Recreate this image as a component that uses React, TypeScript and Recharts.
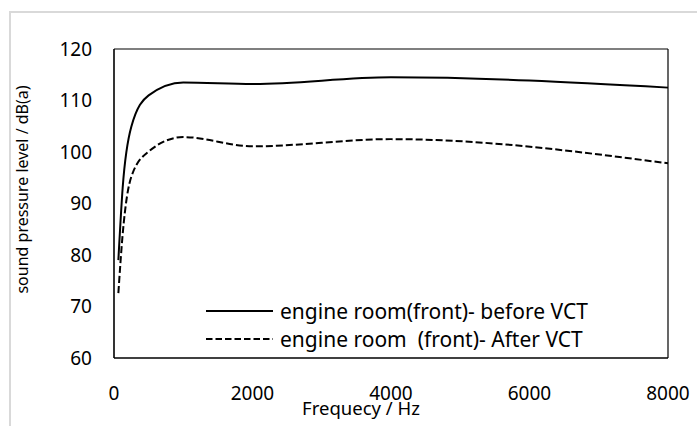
import { LineChart, Line, XAxis, YAxis, ReferenceLine } from "recharts";

// octave band centre frequencies (Hz)
const frequencies = [63, 125, 250, 500, 1000, 2000, 4000, 8000];
const beforeVct = [79, 93, 104.9, 111, 113.5, 113.2, 114.5, 112.5];
const afterVct = [72.6, 84, 95.2, 100.1, 102.9, 101.1, 102.5, 97.8];

const xTicks = [0, 2000, 4000, 6000, 8000];
const yTicks = [60, 70, 80, 90, 100, 110, 120];

const seriesNames = [
  "engine room(front)- before VCT",
  "engine room  (front)- After VCT",
];

const data = frequencies.map((f, i) => ({
  freq: f,
  before: beforeVct[i],
  after: afterVct[i],
}));

const FONT = "'Noto Sans', 'Open Sans', sans-serif";

function LegendBox() {
  return (
    <div
      style={{
        position: "absolute",
        left: 206,
        top: 297,
        fontFamily: FONT,
        fontSize: 21,
        color: "#000",
        lineHeight: "28px",
      }}
    >
      {seriesNames.map((name, i) => (
        <div key={name} style={{ display: "flex", alignItems: "center", whiteSpace: "pre" }}>
          <svg width={67} height={10} style={{ marginRight: 7 }}>
            <line
              x1={0}
              x2={67}
              y1={5}
              y2={5}
              stroke="#000"
              strokeWidth={2}
              strokeDasharray={i === 1 ? "6.5 3" : undefined}
            />
          </svg>
          {name}
        </div>
      ))}
    </div>
  );
}

export default function App() {
  return (
    <div style={{ position: "absolute", left: 0, top: 0, width: 697, height: 426, background: "#fff", overflow: "hidden" }}>
      <div
        style={{
          position: "absolute",
          left: 9,
          top: 11,
          width: 700,
          height: 430,
          borderLeft: "2px solid #d9d9d9",
          borderTop: "2px solid #d9d9d9",
        }}
      />
      <LineChart
        width={697}
        height={426}
        data={data}
        margin={{ top: 49, right: 29, bottom: 0, left: 0 }}
        style={{ fontFamily: FONT }}
      >
        <XAxis
          type="number"
          dataKey="freq"
          domain={[0, 8000]}
          ticks={xTicks}
          tickLine={false}
          tickSize={0}
          tickMargin={29}
          height={68}
          axisLine={{ stroke: "#000", strokeWidth: 1.6 }}
          tick={{ fill: "#000", fontSize: 19 }}
          label={{
            value: "Frequecy / Hz",
            position: "insideBottom",
            offset: 11,
            dx: -30,
            fill: "#000",
            fontSize: 18.5,
          }}
        />
        <YAxis
          type="number"
          domain={[60, 120]}
          ticks={yTicks}
          tickLine={false}
          tickSize={0}
          tickMargin={22}
          width={114}
          axisLine={{ stroke: "#000", strokeWidth: 1.6 }}
          tick={{ fill: "#000", fontSize: 19 }}
          label={{
            value: "sound pressure level / dB(a)",
            angle: -90,
            position: "insideLeft",
            offset: 22,
            dy: -14,
            fill: "#000",
            fontSize: 16,
            style: { textAnchor: "middle" },
          }}
        />
        <ReferenceLine y={120} stroke="#000" strokeWidth={1.2} />
        <ReferenceLine x={8000} stroke="#000" strokeWidth={1.2} />
        <Line
          type="monotone"
          dataKey="before"
          name={seriesNames[0]}
          stroke="#000"
          strokeWidth={2}
          dot={false}
          isAnimationActive={false}
        />
        <Line
          type="monotone"
          dataKey="after"
          name={seriesNames[1]}
          stroke="#000"
          strokeWidth={2}
          strokeDasharray="7 3"
          dot={false}
          isAnimationActive={false}
        />
      </LineChart>
      <LegendBox />
    </div>
  );
}
